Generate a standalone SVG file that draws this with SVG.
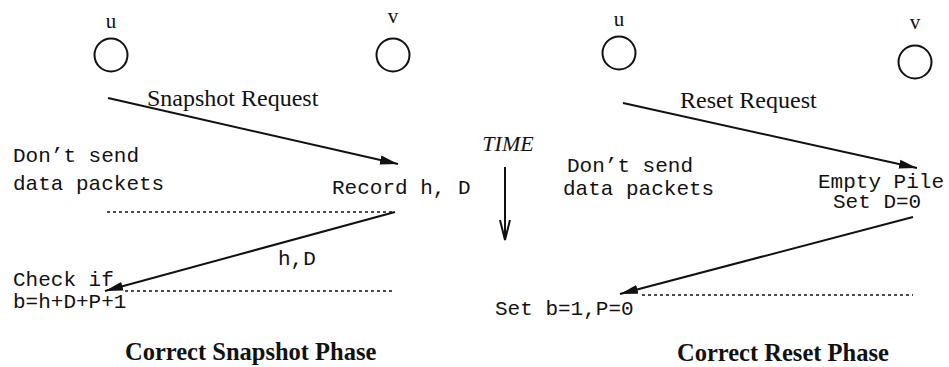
<svg xmlns="http://www.w3.org/2000/svg" width="949" height="367" viewBox="0 0 949 367">
  <style>
    .serif { font-family: "Liberation Serif", "Times New Roman", serif; fill: #111; }
    .label { font-size: 24px; }
    .node-name { font-size: 21px; }
    .title { font-size: 24.5px; font-weight: bold; }
    .time { font-size: 22px; font-style: italic; }
    .mono { font-family: "Liberation Mono", "Courier New", monospace; font-size: 21px; fill: #111; }
    .node { fill: none; stroke: #111; stroke-width: 2; }
    .msg { stroke: #111; stroke-width: 2; fill: none; }
    .dots { stroke: #111; stroke-width: 1.6; stroke-dasharray: 3 3; fill: none; }
  </style>
  <defs>
    <marker id="head" markerWidth="20" markerHeight="10" refX="18" refY="5" orient="auto" markerUnits="userSpaceOnUse">
      <path d="M0,0.5 L18,5 L0,9.5 Z" fill="#111"/>
    </marker>
  </defs>
  <rect width="949" height="367" fill="#fff"/>

  <!-- Snapshot phase -->
  <g id="snap-u">
    <text class="serif node-name" x="111" y="28" text-anchor="middle">u</text>
    <circle class="node" cx="111" cy="55" r="16.5"/>
  </g>
  <g id="snap-v">
    <text class="serif node-name" x="393" y="23" text-anchor="middle">v</text>
    <circle class="node" cx="393" cy="55" r="16.5"/>
  </g>
  <g id="snap-notes">
    <text class="mono" x="13" y="162">Don’t send</text>
    <text class="mono" x="13" y="190">data packets</text>
    <text class="mono" x="332" y="194">Record h, D</text>
    <text class="mono" x="13" y="286">Check if</text>
    <text class="mono" x="13" y="308">b=h+D+P+1</text>
  </g>

  <!-- Reset phase -->
  <g id="reset-u">
    <text class="serif node-name" x="619" y="26" text-anchor="middle">u</text>
    <circle class="node" cx="619" cy="53" r="16.5"/>
  </g>
  <g id="reset-v">
    <text class="serif node-name" x="915" y="29" text-anchor="middle">v</text>
    <circle class="node" cx="915" cy="62" r="16.5"/>
  </g>
  <g id="reset-notes">
    <text class="mono" x="567" y="172">Don’t send</text>
    <text class="mono" x="563" y="195">data packets</text>
    <text class="mono" x="818" y="188">Empty Pile</text>
    <text class="mono" x="833" y="208">Set D=0</text>
    <text class="mono" x="495" y="315">Set b=1,P=0</text>
  </g>

  <!-- Time axis -->
  <g id="time">
    <text class="serif time" x="508" y="151" text-anchor="middle">TIME</text>
    <line class="msg" x1="505" y1="167" x2="505" y2="240" stroke-width="1.8"/>
    <path class="msg" d="M500,220 L505,240 L510,220" stroke-width="1.8"/>
  </g>

  <!-- Connectors -->
  <g id="connectors">
    <line class="msg" x1="108" y1="98" x2="398" y2="164" marker-end="url(#head)"/>
    <text class="serif label" x="147" y="106">Snapshot Request</text>
    <line class="dots" x1="107" y1="212" x2="395" y2="212"/>
    <line class="msg" x1="395" y1="212" x2="105" y2="291" marker-end="url(#head)"/>
    <text class="mono" x="278" y="265">h,D</text>
    <line class="dots" x1="125" y1="291" x2="395" y2="291"/>

    <line class="msg" x1="623" y1="103" x2="917" y2="168" marker-end="url(#head)"/>
    <text class="serif label" x="680" y="108">Reset Request</text>
    <line class="msg" x1="913" y1="217" x2="620" y2="294" marker-end="url(#head)"/>
    <line class="dots" x1="642" y1="295" x2="913" y2="295"/>
  </g>

  <text class="serif title" x="125" y="360">Correct Snapshot Phase</text>
  <text class="serif title" x="677" y="361">Correct Reset Phase</text>
</svg>
